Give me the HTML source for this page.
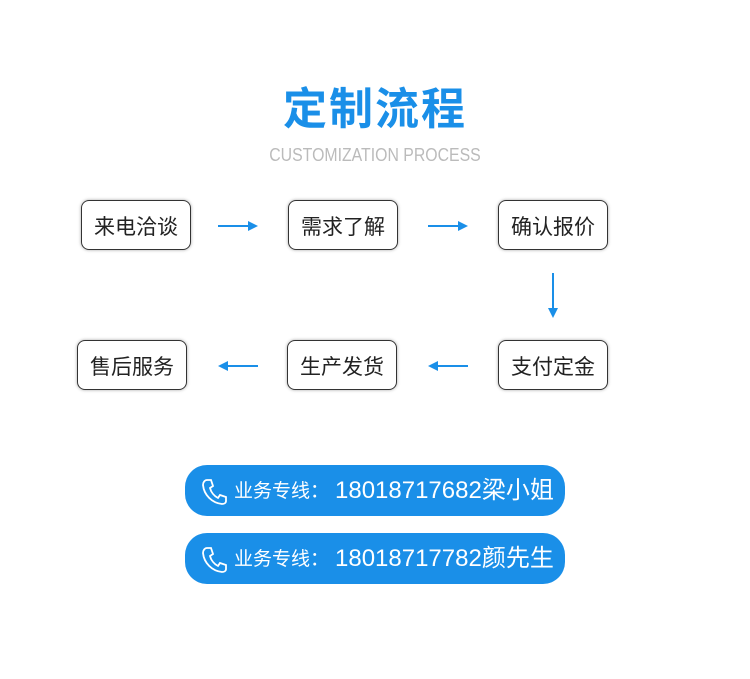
<!DOCTYPE html>
<html><head><meta charset="utf-8"><style>
body{margin:0;width:750px;height:679px;background:#fff;position:relative;overflow:hidden;font-family:"Liberation Sans","Noto Sans CJK SC",sans-serif}
.t{position:absolute;left:0;width:750px;text-align:center}
.b{position:absolute;width:108px;height:48px;border:1px solid #333;border-radius:8px;box-shadow:0 0 3px rgba(0,0,0,.35);font-size:21px;color:#222;text-align:center;line-height:54px;box-sizing:content-box}
.p{position:absolute;left:185px;width:380px;height:51px;border-radius:22px;background:#1a8fe8;color:#fff;line-height:51px}
.p svg{position:absolute;left:16px;top:13px}
.p .l{position:absolute;left:49px;font-size:19px;top:1px}
.p .n{position:absolute;left:150px;font-size:24px}
</style></head><body>
<div class="t" style="top:73px;font-size:44px;font-weight:bold;color:#1a8fe8;letter-spacing:2px">定制流程</div>
<div class="t" style="top:145px;font-size:18px;color:#bbb;transform:scaleX(.88)">CUSTOMIZATION PROCESS</div>
<div class="b" style="left:81px;top:200px">来电洽谈</div>
<div class="b" style="left:288px;top:200px">需求了解</div>
<div class="b" style="left:498px;top:200px">确认报价</div>
<div class="b" style="left:77px;top:340px">售后服务</div>
<div class="b" style="left:287px;top:340px">生产发货</div>
<div class="b" style="left:498px;top:340px">支付定金</div>
<svg width="750" height="679" style="position:absolute;left:0;top:0">
<g stroke="#1a8fe8" stroke-width="2" fill="#1a8fe8">
<line x1="218" y1="226" x2="250" y2="226"/><path d="M258 226 L248 221 L248 231Z" stroke="none"/>
<line x1="428" y1="226" x2="460" y2="226"/><path d="M468 226 L458 221 L458 231Z" stroke="none"/>
<line x1="553" y1="273" x2="553" y2="309"/><path d="M553 318 L548 308 L558 308Z" stroke="none"/>
<line x1="226" y1="366" x2="258" y2="366"/><path d="M218 366 L228 361 L228 371Z" stroke="none"/>
<line x1="436" y1="366" x2="468" y2="366"/><path d="M428 366 L438 361 L438 371Z" stroke="none"/>
</g></svg>
<div class="p" style="top:465px"><svg width="28" height="28" viewBox="0 0 28 28"><path d="M6 2 L10 2 L12 8 L9 10 C10 14 13 18 17 20 L19 17 L25 19 L25 23 C25 25 23 26 21 26 C11 25 3 17 2 7 C2 4 4 2 6 2Z" fill="none" stroke="#fff" stroke-width="1.8"/></svg><span class="l">业务专线：</span><span class="n">18018717682梁小姐</span></div>
<div class="p" style="top:533px"><svg width="28" height="28" viewBox="0 0 28 28"><path d="M6 2 L10 2 L12 8 L9 10 C10 14 13 18 17 20 L19 17 L25 19 L25 23 C25 25 23 26 21 26 C11 25 3 17 2 7 C2 4 4 2 6 2Z" fill="none" stroke="#fff" stroke-width="1.8"/></svg><span class="l">业务专线：</span><span class="n">18018717782颜先生</span></div>
</body></html>
